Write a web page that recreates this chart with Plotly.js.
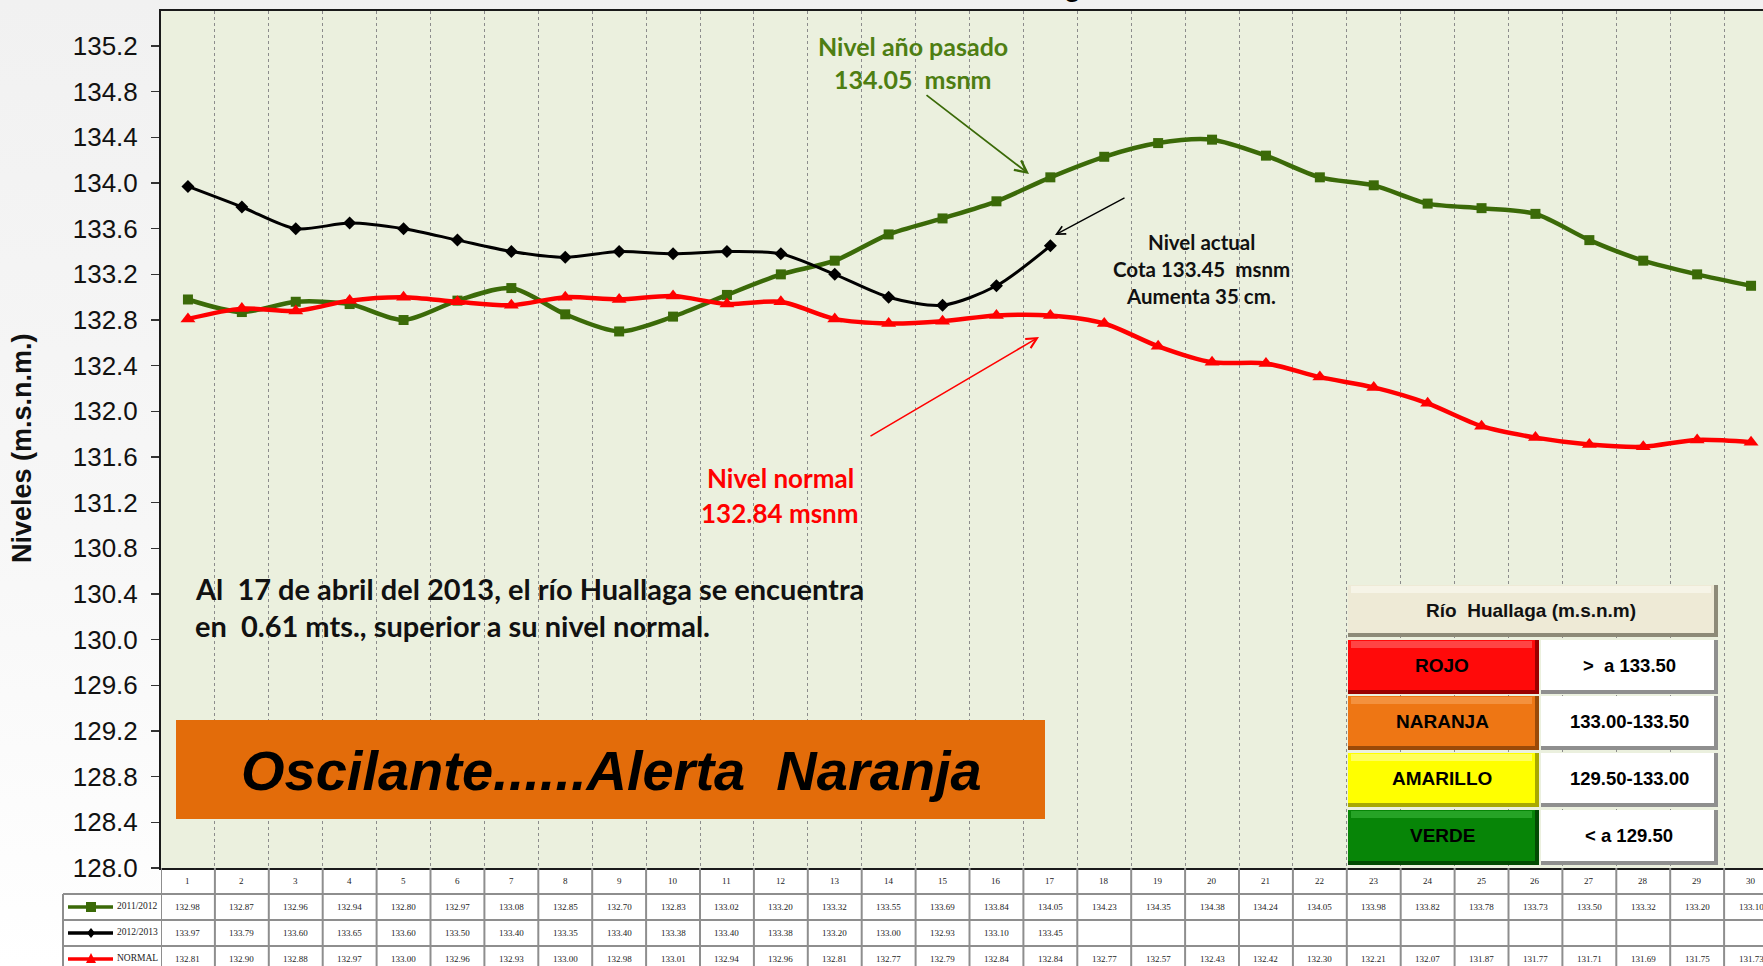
<!DOCTYPE html>
<html><head><meta charset="utf-8">
<script src="https://cdn.plot.ly/plotly-3.0.1.min.js"></script>
<style>
html,body{margin:0;padding:0;overflow:hidden;width:1763px;height:966px;background:linear-gradient(#f1f1f1,#f7f7f7 55%,#ffffff);}
#chart{width:1790px;height:966px;}
</style>
</head><body><div id="chart"></div>
<script>
// ---------------- DATA ----------------
const days = [1,2,3,4,5,6,7,8,9,10,11,12,13,14,15,16,17,18,19,20,21,22,23,24,25,26,27,28,29,30];
const serie2011 = [132.98,132.87,132.96,132.94,132.80,132.97,133.08,132.85,132.70,132.83,133.02,133.20,133.32,133.55,133.69,133.84,134.05,134.23,134.35,134.38,134.24,134.05,133.98,133.82,133.78,133.73,133.50,133.32,133.20,133.10];
const serie2012 = [133.97,133.79,133.60,133.65,133.60,133.50,133.40,133.35,133.40,133.38,133.40,133.38,133.20,133.00,132.93,133.10,133.45,null,null,null,null,null,null,null,null,null,null,null,null,null];
const serieNormal = [132.81,132.90,132.88,132.97,133.00,132.96,132.93,133.00,132.98,133.01,132.94,132.96,132.81,132.77,132.79,132.84,132.84,132.77,132.57,132.43,132.42,132.30,132.21,132.07,131.87,131.77,131.71,131.69,131.75,131.73];
const seriesNames = ['2011/2012','2012/2013','NORMAL'];
const alertNames = ['ROJO','NARANJA','AMARILLO','VERDE'];
const alertRanges = ['>\u00a0 a 133.50','133.00-133.50','129.50-133.00','< a 129.50'];

// ---------------- LAYOUT GEOMETRY ----------------
const W=1790,H=966,ML=161,MR=12,MT=11,MB=98;
const PW=W-ML-MR, PH=H-MT-MB;
const px=v=>(v-ML)/PW;
const py=v=>(H-MB-v)/PH;

const cGreen='#3B6A08', cBlack='#000000', cRed='#FF0000';
const traces=[
 {x:days,y:serie2011,name:seriesNames[0],mode:'lines+markers',line:{color:cGreen,width:4.5,shape:'spline',smoothing:0.8},marker:{symbol:'square',size:10,color:cGreen}},
 {x:days,y:serie2012,name:seriesNames[1],mode:'lines+markers',connectgaps:false,line:{color:cBlack,width:3,shape:'spline',smoothing:0.8},marker:{symbol:'diamond',size:10,color:cBlack}},
 {x:days,y:serieNormal,name:seriesNames[2],mode:'lines+markers',line:{color:cRed,width:4.5,shape:'spline',smoothing:0.8},marker:{symbol:'triangle-up',size:13,color:cRed}}
];

const shapes=[], ann=[];
const fCal='Lato, "Open Sans", sans-serif';
const fAr='"Liberation Sans", Arial, sans-serif';
const fSer='"Liberation Serif", "Times New Roman", serif';

// --- table backgrounds
shapes.push({type:'rect',xref:'paper',yref:'paper',x0:px(63),x1:px(161),y0:py(894),y1:py(990),fillcolor:'#ffffff',line:{width:0},layer:'below'});
shapes.push({type:'rect',xref:'paper',yref:'paper',x0:px(161),x1:px(W),y0:py(869),y1:py(990),fillcolor:'#ffffff',line:{width:0},layer:'below'});
// table grid
const tblCol='#8e8e8e';
const bounds=[days[0]-0.5].concat(days.map(d=>d+0.5));
bounds.forEach(b=>shapes.push({type:'line',xref:'x',yref:'paper',x0:b,x1:b,y0:py(868),y1:py(990),line:{color:tblCol,width:2}}));
shapes.push({type:'line',xref:'paper',yref:'paper',x0:px(63),x1:px(63),y0:py(894),y1:py(990),line:{color:tblCol,width:2}});
[894,920,946,972].forEach(v=>shapes.push({type:'line',xref:'paper',yref:'paper',x0:px(63),x1:px(W),y0:py(v),y1:py(v),line:{color:tblCol,width:2}}));
const rowC=[907,933,959];
// legend symbols in table
const symCols=[cGreen,cBlack,cRed];
rowC.forEach((yc,i)=>{
  shapes.push({type:'line',xref:'paper',yref:'paper',x0:px(68),x1:px(113),y0:py(yc),y1:py(yc),line:{color:symCols[i],width:3.5}});
  let p;
  if(i===0){p=`M${px(86)},${py(yc-5)} L${px(96)},${py(yc-5)} L${px(96)},${py(yc+5)} L${px(86)},${py(yc+5)} Z`;}
  else if(i===1){p=`M${px(91)},${py(yc-5)} L${px(95)},${py(yc)} L${px(91)},${py(yc+5)} L${px(87)},${py(yc)} Z`;}
  else {p=`M${px(91)},${py(yc-6)} L${px(96)},${py(yc+4)} L${px(86)},${py(yc+4)} Z`;}
  shapes.push({type:'path',xref:'paper',yref:'paper',path:p,fillcolor:symCols[i],line:{width:0}});
  ann.push({xref:'paper',yref:'paper',x:px(115),y:py(yc-1),xanchor:'left',yanchor:'middle',text:seriesNames[i],showarrow:false,font:{family:fSer,size:9.5,color:'#222'}});
});
// table values
const allSeries=[serie2011,serie2012,serieNormal];
days.forEach((d,j)=>{
  ann.push({xref:'x',yref:'paper',x:d,y:py(881),xanchor:'center',yanchor:'middle',text:String(d),showarrow:false,font:{family:fSer,size:9,color:'#222'}});
  allSeries.forEach((s,i)=>{
    if(s[j]!==null) ann.push({xref:'x',yref:'paper',x:d,y:py(rowC[i]),xanchor:'center',yanchor:'middle',text:s[j].toFixed(2),showarrow:false,font:{family:fSer,size:9,color:'#222'}});
  });
});

// --- orange alert box
shapes.push({type:'rect',xref:'paper',yref:'paper',x0:px(176),x1:px(1045),y0:py(819),y1:py(720),fillcolor:'#E36C0A',line:{width:0}});
ann.push({xref:'paper',yref:'paper',x:px(611),y:py(770),xanchor:'center',yanchor:'middle',text:'<b><i>Oscilante......Alerta\u00a0 Naranja</i></b>',showarrow:false,font:{family:fAr,size:56,color:'#000'}});

// --- bevel buttons (alert legend)
function bevel(x0,x1,y0,y1,col,dark,light){
  shapes.push({type:'rect',xref:'paper',yref:'paper',x0:px(x0),x1:px(x1),y0:py(y1),y1:py(y0),fillcolor:dark,line:{width:0}});
  shapes.push({type:'rect',xref:'paper',yref:'paper',x0:px(x0),x1:px(x1-4),y0:py(y1-4),y1:py(y0),fillcolor:col,line:{width:0}});
  shapes.push({type:'rect',xref:'paper',yref:'paper',x0:px(x0+3),x1:px(x1-7),y0:py(y0+8),y1:py(y0+1),fillcolor:light,opacity:0.6,line:{width:0}});
}
function ctext(x,y,t,size,fam,color){ann.push({xref:'paper',yref:'paper',x:px(x),y:py(y),xanchor:'center',yanchor:'middle',text:t,showarrow:false,font:{family:fam,size:size,color:color}});}
bevel(1348,1718,585,637,'#EEEAD6','#8d8a78','#fbfaf2');
ctext(1531,610,'<b>Río\u00a0 Huallaga (m.s.n.m)</b>',19,fAr,'#111');
const rowsY=[[640,694],[696,750],[753,807],[810,865]];
const btnCols=[['#FF0A0A','#9a0000','#ff6a6a'],['#EE7614','#9a4a08','#f8a45a'],['#FFFF00','#a8a800','#ffff9a'],['#078507','#034a03','#3cb83c']];
rowsY.forEach((r,i)=>{
  bevel(1348,1539,r[0],r[1],btnCols[i][0],btnCols[i][1],btnCols[i][2]);
  bevel(1541,1718,r[0],r[1],'#ffffff','#8f8f8f','#ffffff');
  ctext(1442,(r[0]+r[1])/2-2,'<b>'+alertNames[i]+'</b>',19,fAr,'#000');
  ctext(1629,(r[0]+r[1])/2-2,'<b>'+alertRanges[i]+'</b>',18.5,fAr,'#000');
});

// --- text annotations
function txt(x,y,t,size,color,anchor){ann.push({xref:'paper',yref:'paper',x:px(x),y:py(y),text:'<b>'+t+'</b>',showarrow:false,xanchor:anchor||'center',yanchor:'middle',font:{family:fCal,size:size,color:color}});}
txt(913,46,'Nivel año pasado',25,'#4E7E12');
txt(913,79,'134.05\u00a0 msnm',25,'#4E7E12');
txt(1201,242,'Nivel actual',20.5,'#111');
txt(1201,269,'Cota 133.45\u00a0 msnm',20.5,'#111');
txt(1201,296,'Aumenta 35 cm.',20.5,'#111');
txt(780,478,'Nivel normal',26,'#FF0000');
txt(780,513,'132.84 msnm',26,'#FF0000');
txt(193,588,'Al\u00a0 17 de abril del 2013, el río Huallaga se encuentra',29,'#111','left');
txt(193,625,'en\u00a0 0.61 mts., superior a su nivel normal.',29,'#111','left');

// arrows
function arrow(tx,ty,fx,fy,color,w){ann.push({xref:'paper',yref:'paper',x:px(tx),y:py(ty),ax:fx-tx,ay:fy-ty,text:'',showarrow:true,arrowhead:5,arrowsize:1.3,arrowwidth:w,arrowcolor:color,standoff:0});}
arrow(1029,174,925,94,'#3B6A08',1.8);
arrow(1055,235,1126,197,'#000',1.3);
arrow(1039,337,869,437,'#FF0000',1.6);

// y-axis title
ann.push({xref:'paper',yref:'paper',x:px(22),y:py(448),xanchor:'center',yanchor:'middle',text:'<b>Niveles (m.s.n.m.)</b>',textangle:-90,showarrow:false,font:{family:fAr,size:27,color:'#111'}});
// chart title (cut off at top)
ann.push({xref:'paper',yref:'paper',x:px(1099),y:py(4),xanchor:'right',yanchor:'bottom',text:'<b>Río Huallaga</b>',showarrow:false,font:{family:fAr,size:28,color:'#000'}});

const layout={
  width:W,height:H,margin:{l:ML,r:MR,t:MT,b:MB},
  paper_bgcolor:'rgba(0,0,0,0)',plot_bgcolor:'#EBF0DE',
  showlegend:false,
  xaxis:{range:[0.5,30.5],tickmode:'linear',tick0:0.5,dtick:1,showticklabels:false,ticks:'',showgrid:true,gridcolor:'#8c8c8c',griddash:'dot',gridwidth:1,zeroline:false,showline:true,mirror:true,linecolor:'#1a1a1a',linewidth:2},
  yaxis:{range:[128,135.507],tickmode:'linear',tick0:128,dtick:0.4,tickformat:'.1f',ticks:'outside',ticklen:8,tickwidth:1.5,tickcolor:'#333',showgrid:false,zeroline:false,showline:true,mirror:true,linecolor:'#1a1a1a',linewidth:2,tickfont:{family:fAr,size:26,color:'#111'},ticklabelstandoff:8},
  shapes:shapes,annotations:ann
};
Plotly.newPlot('chart',traces,layout,{displayModeBar:false,staticPlot:true});
</script>
</body></html>
